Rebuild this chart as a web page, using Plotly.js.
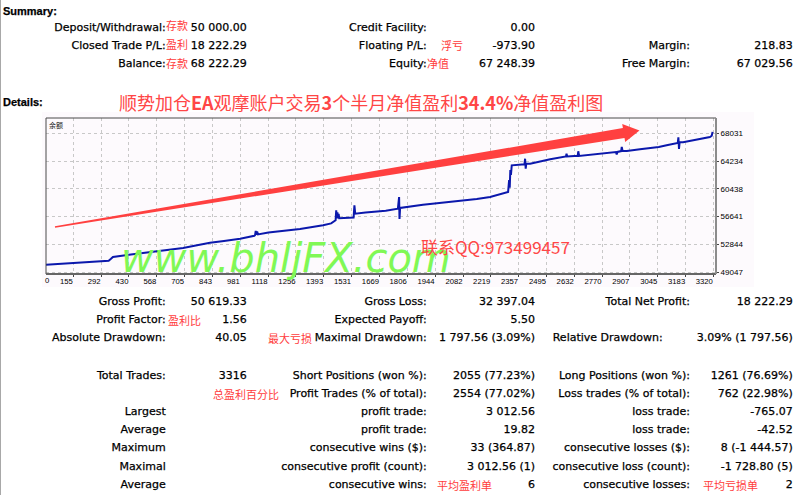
<!DOCTYPE html>
<html><head><meta charset="utf-8">
<script src="https://cdn.plot.ly/plotly-3.0.1.min.js"></script>
<style>
html,body{margin:0;padding:0;background:#fff;width:800px;height:495px;overflow:hidden;}
#page{position:relative;width:800px;height:495px;font-family:"DejaVu Sans",sans-serif;font-size:11px;color:#000;}
.t{position:absolute;white-space:nowrap;line-height:14px;height:14px;-webkit-text-stroke:0.25px #000;}
.r{color:#ff3c3c;font-family:"Noto Sans CJK SC",sans-serif;font-size:11px;-webkit-text-stroke:0;}
.h{font-family:"Liberation Sans",sans-serif;font-weight:bold;font-size:11px;}
#chart{position:absolute;left:0;top:88px;width:800px;height:200px;}
.vline{position:absolute;top:0;width:1px;height:495px;background:#a8a8a8;}
</style></head><body>
<div id="page"><div class="vline" style="left:0"></div><div id="chart"></div></div>
<script>
// ---------- chart data (trade number, balance) ----------
const trades = [0, 70, 155, 287, 330, 340, 351, 440, 534, 620, 698, 767, 831, 900, 980, 1050, 1054, 1057, 1060, 1064, 1068, 1120, 1177, 1276, 1390, 1430, 1452, 1455, 1458, 1461, 1464, 1467, 1470, 1535, 1541, 1545, 1549, 1600, 1700, 1760, 1766, 1768, 1771, 1884, 1950, 2050, 2150, 2216, 2305, 2310, 2313, 2316, 2319, 2323, 2348, 2386, 2389, 2392, 2395, 2414, 2513, 2591, 2594, 2597, 2649, 2652, 2656, 2760, 2838, 2842, 2846, 2864, 2867, 2871, 2892, 2957, 3050, 3089, 3144, 3147, 3150, 3153, 3170, 3303, 3312, 3316];
const balance = [50000, 50120, 50288, 50562, 50600, 50835, 51109, 51450, 51793, 52050, 52340, 52710, 53065, 53300, 53613, 54000, 54119, 54666, 54150, 54600, 54200, 54450, 54625, 54940, 55445, 55700, 56129, 57499, 56400, 57200, 56404, 57000, 56404, 56404, 56500, 58181, 57032, 57200, 57450, 57716, 59317, 56307, 57812, 58263, 58450, 58729, 59050, 59317, 60001, 61643, 60600, 63011, 62327, 63653, 63735, 63800, 64556, 63188, 63900, 63872, 64474, 64857, 65240, 64870, 64950, 65569, 64925, 65200, 65473, 65150, 65480, 65600, 66157, 65610, 65610, 65842, 66150, 66389, 66700, 67484, 65883, 66800, 66800, 67525, 67700, 68222];
const xTickVals = [155, 292, 430, 568, 705, 843, 981, 1118, 1256, 1393, 1531, 1669, 1806, 1944, 2082, 2219, 2357, 2495, 2632, 2770, 2907, 3045, 3183, 3320];
const yTickVals = [49047, 52844, 56641, 60438, 64234, 68031];
const chartTitle = '顺势加仓<b>EA</b>观摩账户交易<b>3</b>个半月净值盈利<b>34.4%</b>净值盈利图';
const seriesLabel = '余额';
const watermark = 'www.bhljFX.com';
const contact = '联系QQ:973499457';

// ---------- report text ----------
const summaryY = [28, 46, 64];
const summaryRows = [
 ['Deposit/Withdrawal:', '50 000.00', 'Credit Facility:', '0.00', '', ''],
 ['Closed Trade P/L:', '18 222.29', 'Floating P/L:', '-973.90', 'Margin:', '218.83'],
 ['Balance:', '68 222.29', 'Equity:', '67 248.39', 'Free Margin:', '67 029.56']
];
const detailY = [301.7, 320, 338.3, 375.7, 394, 411.7, 430, 448.3, 466.7, 485];
const detailRows = [
 ['Gross Profit:', '50 619.33', 'Gross Loss:', '32 397.04', 'Total Net Profit:', '18 222.29'],
 ['Profit Factor:', '1.56', 'Expected Payoff:', '5.50', '', ''],
 ['Absolute Drawdown:', '40.05', 'Maximal Drawdown:', '1 797.56 (3.09%)', 'Relative Drawdown:', '3.09% (1 797.56)'],
 ['Total Trades:', '3316', 'Short Positions (won %):', '2055 (77.23%)', 'Long Positions (won %):', '1261 (76.69%)'],
 ['', '', 'Profit Trades (% of total):', '2554 (77.02%)', 'Loss trades (% of total):', '762 (22.98%)'],
 ['Largest', '', 'profit trade:', '3 012.56', 'loss trade:', '-765.07'],
 ['Average', '', 'profit trade:', '19.82', 'loss trade:', '-42.52'],
 ['Maximum', '', 'consecutive wins ($):', '33 (364.87)', 'consecutive losses ($):', '8 (-1 444.57)'],
 ['Maximal', '', 'consecutive profit (count):', '3 012.56 (1)', 'consecutive loss (count):', '-1 728.80 (5)'],
 ['Average', '', 'consecutive wins:', '6', 'consecutive losses:', '2']
];
const notes = [
 ['存款', 166, 25], ['盈利', 166, 43.5], ['存款', 166, 63.3], ['浮亏', 441, 45], ['净值', 427, 63],
 ['盈利比', 168, 320], ['最大亏损', 268, 338.3], ['总盈利百分比', 213, 394],
 ['平均盈利单', 437, 485], ['平均亏损单', 703, 485]
];

const page = document.getElementById('page');
function put(text, x, yc, cls, alignRight) {
  const d = document.createElement('div');
  d.className = 't ' + (cls || '');
  d.textContent = text;
  d.style.top = (yc - 7) + 'px';
  if (alignRight) d.style.right = (800 - x) + 'px'; else d.style.left = x + 'px';
  page.appendChild(d);
}
put('Summary:', 3, 11, 'h');
put('Details:', 3, 101.5, 'h');
const colEnds = [165.7, 246.7, 426.7, 535, 690, 792.7];
summaryRows.forEach((row, i) => row.forEach((s, j) => { if (s) put(s, colEnds[j], summaryY[i], '', true); }));
detailRows.forEach((row, i) => row.forEach((s, j) => {
  if (!s) return;
  let xe = colEnds[j];
  if (s === 'Relative Drawdown:') xe = 662.7;
  put(s, xe, detailY[i], '', true);
}));
notes.forEach(n => put(n[0], n[1], n[2], 'r', false));

// ---------- chart ----------
const L = 46, R = 716, T = 118, B = 274, TOP = 88, H = 200;
const px2x = p => (p - L) / (R - L);
const py2y = p => (B - p) / (B - T);
function arrowPath(ax, ay, bx, by, w0, w1, hw, hl) {
  const dx = bx - ax, dy = by - ay, len = Math.hypot(dx, dy), ux = dx / len, uy = dy / len, nx = -uy, ny = ux;
  const pts = [[ax + nx * w0, ay + ny * w0], [bx + nx * w1, by + ny * w1], [bx + nx * hw, by + ny * hw], [bx + ux * hl, by + uy * hl],
               [bx - nx * hw, by - ny * hw], [bx - nx * w1, by - ny * w1], [ax - nx * w0, ay - ny * w0]];
  return 'M' + pts.map(p => px2x(p[0]).toFixed(5) + ',' + py2y(p[1]).toFixed(5)).join(' L') + ' Z';
}

const trace = {
  x: trades, y: balance, type: 'scatter', mode: 'lines',
  line: {color: '#0b18ac', width: 2}, hoverinfo: 'skip', showlegend: false
};
const layout = {
  width: 800, height: H,
  margin: {l: L, r: 800 - R, t: T - TOP, b: H - (B - TOP), pad: 0},
  paper_bgcolor: 'rgba(0,0,0,0)', plot_bgcolor: '#fdfafd',
  showlegend: false,
  title: {text: chartTitle, x: 119 / 800, xanchor: 'left', xref: 'container', y: 1 - (104 - TOP) / H, yanchor: 'middle', yref: 'container',
          font: {family: 'Noto Sans CJK SC', size: 18, color: '#ff4646'}},
  xaxis: {range: [20, 3333], tickvals: xTickVals, ticktext: xTickVals.map(String), showgrid: true, gridcolor: '#c8c8c8', griddash: '3px,3px', gridwidth: 1,
          zeroline: false, showline: false, ticks: 'outside', ticklen: 2, tickcolor: '#444', ticklabelposition: 'outside left',
          tickfont: {family: 'Liberation Sans', size: 7.7, color: '#000'}, automargin: false, fixedrange: true},
  yaxis: {side: 'right', range: [48781, 70124], tickvals: yTickVals, ticktext: yTickVals.map(String), showgrid: true, gridcolor: '#c8c8c8', griddash: '3px,3px',
          gridwidth: 1, zeroline: false, showline: false, ticks: 'outside', ticklen: 2, tickcolor: '#444',
          tickfont: {family: 'Liberation Sans', size: 8, color: '#000'}, automargin: false, fixedrange: true},
  shapes: [
    {type: 'rect', xref: 'paper', yref: 'paper', x0: px2x(42), x1: px2x(754), y0: py2y(287), y1: py2y(112), fillcolor: '#fdfafd', line: {width: 0}, layer: 'below'},
    {type: 'path', xref: 'paper', yref: 'paper', path: arrowPath(55, 227, 623.7, 133, 0.8, 5, 9.1, 16), fillcolor: '#ff4040', line: {width: 0}, layer: 'above'},
    {type: 'rect', xref: 'paper', yref: 'paper', x0: 0, x1: 1, y0: 0, y1: 1, line: {color: '#4a4a4a', width: 1}, layer: 'above'},
    {type: 'line', xref: 'paper', yref: 'paper', x0: 0, x1: 1, y0: 0, y1: 0, line: {color: '#666', width: 2}, layer: 'above'},
    {type: 'line', xref: 'paper', yref: 'paper', x0: 1, x1: 1, y0: 0, y1: 1, line: {color: '#8c8c8c', width: 2}, layer: 'above'}
  ],
  annotations: [
    {text: seriesLabel, xref: 'paper', yref: 'paper', x: px2x(47), y: py2y(125), xanchor: 'left', yanchor: 'middle', showarrow: false,
     font: {family: 'Noto Sans CJK SC', size: 7, color: '#111'}},
    {text: '0', xref: 'paper', yref: 'paper', x: px2x(47.3), y: py2y(280), xanchor: 'center', yanchor: 'middle', showarrow: false,
     font: {family: 'Liberation Sans', size: 7.7, color: '#000'}},
    {text: watermark, xref: 'paper', yref: 'paper', x: px2x(119), y: py2y(258), xanchor: 'left', yanchor: 'middle', showarrow: false,
     font: {family: 'DejaVu Sans', size: 40, color: '#80f855', style: 'italic'}},
    {text: contact, xref: 'paper', yref: 'paper', x: px2x(419), y: py2y(246.7), xanchor: 'left', yanchor: 'middle', showarrow: false,
     font: {family: 'Noto Sans CJK SC', size: 17, color: '#ff4646'}}
  ]
};
Plotly.newPlot('chart', [trace], layout, {displayModeBar: false, staticPlot: true});
</script></body></html>
